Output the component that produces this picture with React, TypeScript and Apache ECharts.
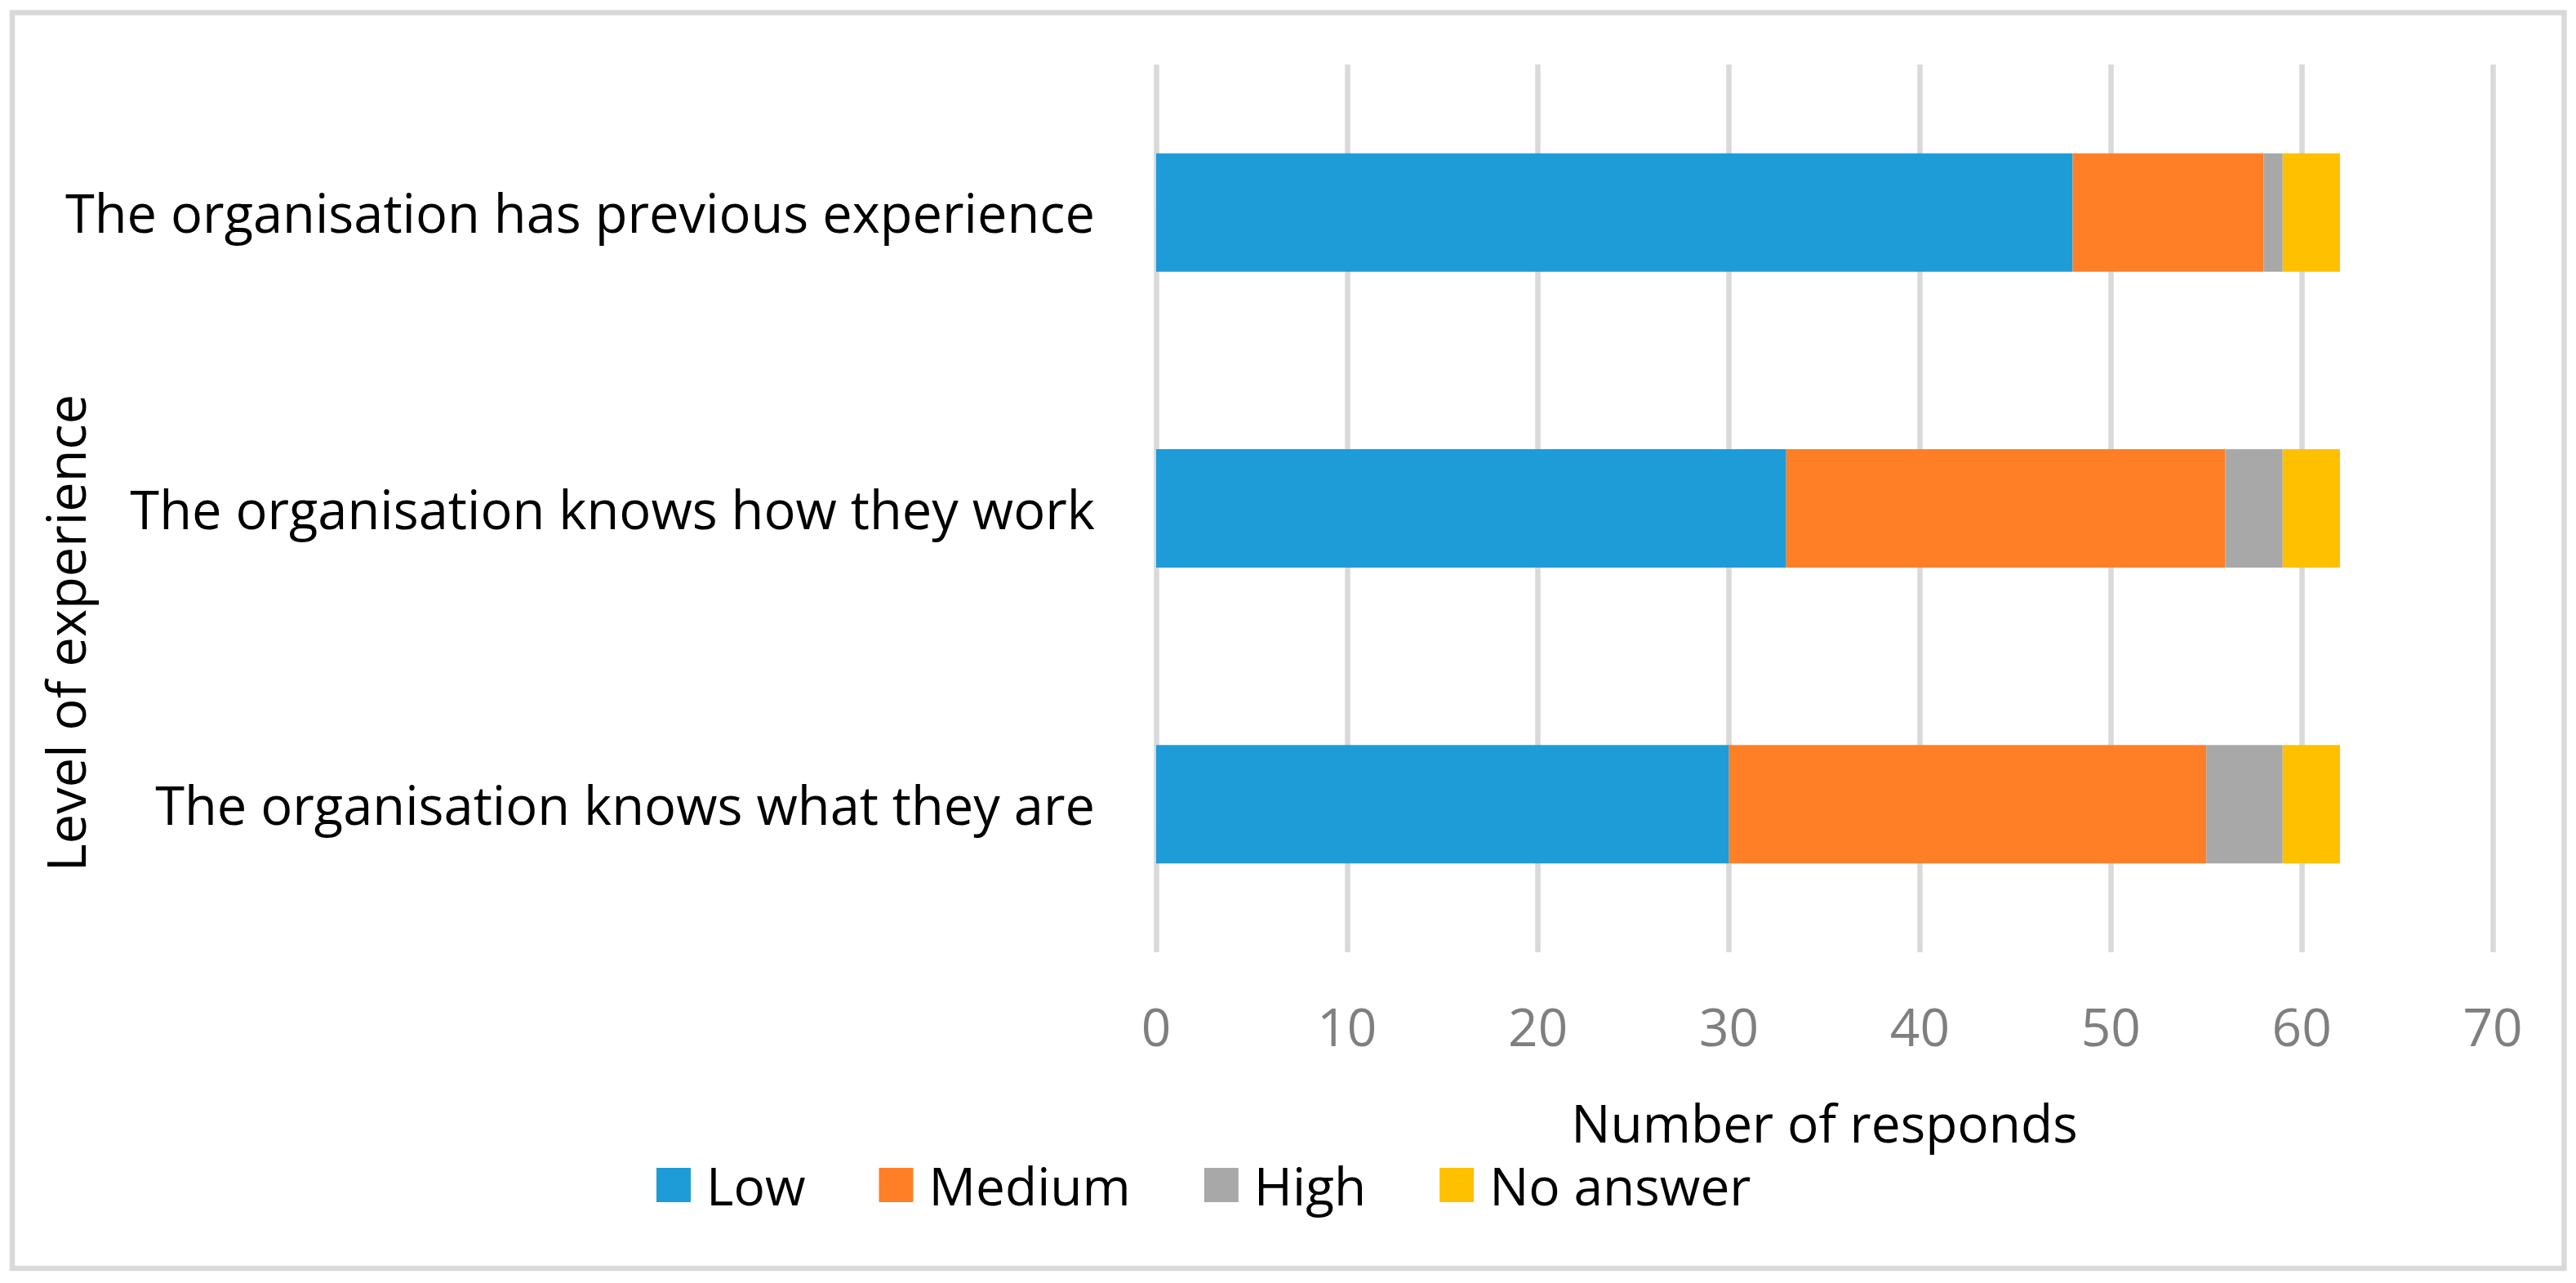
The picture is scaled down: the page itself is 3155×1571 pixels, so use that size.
import React, { useEffect, useRef } from "react";
import * as echarts from "echarts";

const categories = [
  "The organisation knows what they are",
  "The organisation knows how they work",
  "The organisation has previous experience",
];
const seriesNames = ["Low", "Medium", "High", "No answer"];
const lowValues = [30, 33, 48];
const mediumValues = [25, 23, 10];
const highValues = [4, 3, 1];
const noAnswerValues = [3, 3, 3];
const colors = ["#1E9CD8", "#FF7F27", "#A8A8A8", "#FFC000"];
const xTitle = "Number of responds";
const yTitle = "Level of experience";

const FONT = "'Open Sans', 'Noto Sans', sans-serif";

export default function App() {
  const ref = useRef<HTMLDivElement>(null);
  useEffect(() => {
    if (!ref.current) return;
    const chart = echarts.init(ref.current, null, { renderer: "svg" });
    const values = [lowValues, mediumValues, highValues, noAnswerValues];
    chart.setOption({
      animation: false,
      backgroundColor: "#ffffff",
      textStyle: { fontFamily: FONT },
      grid: {
        left: 1416,
        right: 102,
        top: 79,
        bottom: 405,
        containLabel: false,
        outerBoundsMode: "none",
      },
      legend: {
        data: seriesNames,
        left: 799,
        top: 1414,
        orient: "horizontal",
        icon: "rect",
        itemWidth: 42,
        itemHeight: 42,
        itemGap: 90,
        textStyle: {
          fontFamily: FONT,
          fontSize: 64,
          color: "#000000",
          padding: [0, 0, 0, 14],
        },
      },
      xAxis: {
        type: "value",
        min: 0,
        max: 70,
        interval: 10,
        axisLine: { show: false },
        axisTick: { show: false },
        splitLine: { show: true, lineStyle: { color: "#D9D9D9", width: 6.5 } },
        axisLabel: {
          color: "#7F7F7F",
          fontSize: 64,
          fontFamily: FONT,
          margin: 58,
        },
        name: xTitle,
        nameLocation: "middle",
        nameGap: 176,
        nameTextStyle: { color: "#000000", fontSize: 64, fontFamily: FONT },
      },
      yAxis: {
        type: "category",
        data: categories,
        axisLine: { show: false },
        axisTick: { show: false },
        splitLine: { show: false },
        axisLabel: {
          color: "#000000",
          fontSize: 65,
          fontFamily: FONT,
          margin: 75,
        },
      },
      graphic: [
        {
          type: "rect",
          shape: { x: 15, y: 15.5, width: 3125.5, height: 1537.5 },
          style: { fill: "none", stroke: "#D9D9D9", lineWidth: 6.5 },
          silent: true,
          z: -1,
        },
        {
          type: "text",
          x: 80,
          y: 775,
          rotation: Math.PI / 2,
          style: {
            text: yTitle,
            fontSize: 65,
            fontFamily: FONT,
            fill: "#000000",
            align: "center",
            verticalAlign: "middle",
          },
        },
      ],
      series: seriesNames.map((name, i) => ({
        name,
        type: "bar",
        stack: "total",
        barCategoryGap: "60%",
        data: values[i],
        itemStyle: { color: colors[i] },
      })),
    });
    return () => chart.dispose();
  }, []);
  return (
    <div
      ref={ref}
      style={{ position: "absolute", left: 0, top: 0, width: 3155, height: 1571 }}
    />
  );
}
